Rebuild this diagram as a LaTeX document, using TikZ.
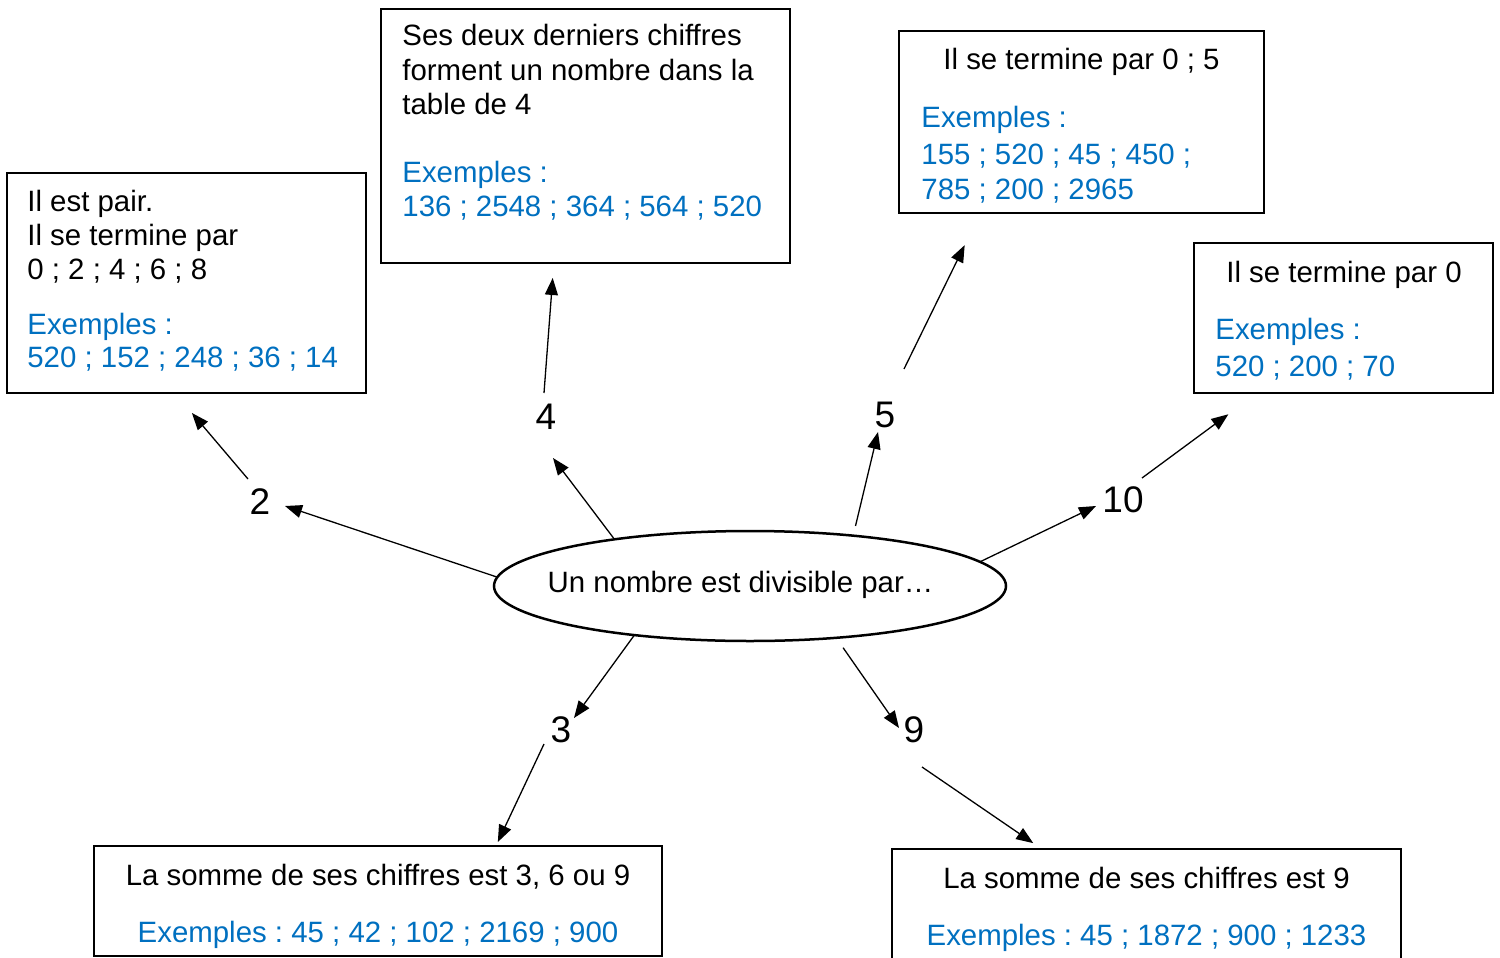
\documentclass[tikz,border=0pt]{standalone}
\usepackage{fontspec}
\setmainfont{Liberation Sans}
\usetikzlibrary{arrows.meta,shapes.geometric,calc}
\definecolor{exblue}{RGB}{0,112,192}
\frenchspacing
\begin{document}
\begin{tikzpicture}[x=0.5pt,y=-0.5pt,
  box/.style={draw, rectangle, line width=1pt, inner sep=0pt, outer sep=0pt},
  txt/.style={font=\fontsize{14.7}{17}\selectfont, inner sep=0pt, anchor=base west},
  ctxt/.style={txt, anchor=base},
  ex/.style={txt, text=exblue},
  cex/.style={ctxt, text=exblue},
  lbl/.style={inner sep=0pt, outer sep=0pt, font=\fontsize{18.5}{20}\selectfont},
  arr/.style={-{Triangle[length=8.5pt,width=6.5pt]}, line width=0.65pt}]
\useasboundingbox (0,0) rectangle (1500,958);
\fill[white] (0,0) rectangle (1500,958);
\clip (0,0) rectangle (1500,958);

% central ellipse
\node[ellipse, draw, line width=1.25pt, inner sep=0pt, outer sep=0pt,
      minimum width=256pt, minimum height=55pt] (e) at (750,586) {};
\node[ctxt] (et) at (740.5,592) {Un nombre est divisible par…};

% boxes
\node[box, minimum width=179.5pt, minimum height=110pt] (b2) at (186.5,283) {};
\node[box, minimum width=204.5pt, minimum height=127pt] (b4) at (585.5,136) {};
\node[box, minimum width=182.5pt, minimum height=91pt] (b5) at (1081.5,122) {};
\node[box, minimum width=149.5pt, minimum height=75pt] (b10) at (1343.5,318) {};
\node[box, minimum width=284pt, minimum height=55pt] (b3) at (378,901) {};
\node[box, minimum width=254.5pt, minimum height=58pt] (b9) at (1146.5,907) {};

% box texts
\node[txt] (t2a) at (27,211) {Il est pair.};
\node[txt] (t2b) at (27,245) {Il se termine par};
\node[txt] (t2c) at (27,279) {0 ; 2 ; 4 ; 6 ; 8};
\node[ex] (t2d) at (27,334) {Exemples :};
\node[ex] (t2e) at (27,367) {520 ; 152 ; 248 ; 36 ; 14};

\node[txt] (t4a) at (402,46) {Ses deux derniers chiffres};
\node[txt] (t4b) at (402,80) {forment un nombre dans la};
\node[txt] (t4c) at (402,114) {table de 4};
\node[ex] (t4d) at (402,182) {Exemples :};
\node[ex] (t4e) at (402,216) {136 ; 2548 ; 364 ; 564 ; 520};

\node[ctxt] (t5a) at (1081.5,69) {Il se termine par 0 ; 5};
\node[ex] (t5b) at (921,127) {Exemples :};
\node[ex] (t5c) at (921,164) {155 ; 520 ; 45 ; 450 ;};
\node[ex] (t5d) at (921,199) {785 ; 200 ; 2965};

\node[ctxt] (t10a) at (1344,282) {Il se termine par 0};
\node[ex] (t10b) at (1215,339) {Exemples :};
\node[ex] (t10c) at (1215,376) {520 ; 200 ; 70};

\node[ctxt] (t3a) at (378,885) {La somme de ses chiffres est 3, 6 ou 9};
\node[cex] (t3b) at (378,942) {Exemples : 45 ; 42 ; 102 ; 2169 ; 900};

\node[ctxt] (t9a) at (1146.5,888) {La somme de ses chiffres est 9};
\node[cex] (t9b) at (1146.5,945) {Exemples : 45 ; 1872 ; 900 ; 1233};

% divisor labels
\node[lbl] (l2) at (260,502) {2};
\node[lbl] (l4) at (546,417) {4};
\node[lbl] (l5) at (885,415) {5};
\node[lbl] (l10) at (1123,500) {10};
\node[lbl] (l3) at (561,730) {3};
\node[lbl] (l9) at (914,730) {9};

% connectors
\draw[arr] (e.178) -- ($(l2)+(25,4)$);
\draw[arr, shorten >=13.1pt] ($(l2)+(-12,-23)$) -- (b2.264);
\draw[arr] (e.161.1) -- ($(l4)+(7,41)$);
\draw[arr, shorten >=7.5pt] ($(l4)+(-2,-24)$) -- (b4.256.1);
\draw[arr, shorten <=5pt] (e.26.6) -- ($(l5)+(-7,17)$);
\draw[arr, shorten >=17.9pt] ($(l5)+(19,-46)$) -- (b5.222.4);
\draw[arr] (e.6.75) -- ($(l10)+(-27,6)$);
\draw[arr, shorten >=17.9pt] ($(l10)+(19,-22)$) -- (b10.221.6);
\draw[arr] (e.203) -- ($(l3)+(13,-12)$);
\draw[arr, shorten >=2.2pt] ($(l3)+(-17,14)$) -- (b3.25.8);
\draw[arr, shorten <=6pt] (e.329.1) -- ($(l9)+(-15,-2)$);
\draw[arr, shorten >=5.2pt] ($(l9)+(8,37)$) -- (b9.151.4);
\end{tikzpicture}
\end{document}
